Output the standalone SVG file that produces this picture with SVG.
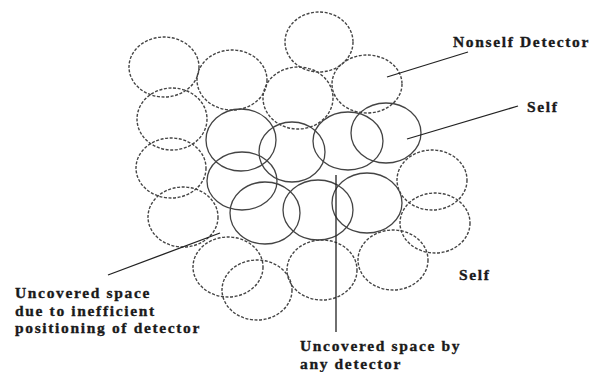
<svg xmlns="http://www.w3.org/2000/svg" width="601" height="372" viewBox="0 0 601 372">
<style>
.d{fill:none;stroke:#444;stroke-width:1.4;stroke-dasharray:3 1.6}
.s{fill:none;stroke:#444;stroke-width:1.3}
.l{stroke:#222;stroke-width:1.3;fill:none}
text{font-family:"Liberation Serif","Times New Roman",serif;font-weight:700;font-size:15.5px;letter-spacing:1.65px;fill:#1a1a1a;stroke:#1a1a1a;stroke-width:0.35}
</style>
<rect width="601" height="372" fill="#fff"/>
<g id="detectors">
<ellipse id="d1" class="d" cx="319" cy="42" rx="34" ry="30"/>
<ellipse id="d2" class="d" cx="164" cy="67" rx="35" ry="30"/>
<ellipse id="d3" class="d" cx="232" cy="80" rx="35" ry="30"/>
<ellipse id="d4" class="d" cx="298" cy="98" rx="35" ry="31"/>
<ellipse id="d5" class="d" cx="367" cy="84" rx="35" ry="29"/>
<ellipse id="d6" class="d" cx="172" cy="119" rx="35" ry="31"/>
<ellipse id="d7" class="d" cx="171" cy="168" rx="35" ry="30"/>
<ellipse id="d8" class="d" cx="183" cy="217" rx="35" ry="30"/>
<ellipse id="d9" class="d" cx="228" cy="267" rx="35" ry="30"/>
<ellipse id="d10" class="d" cx="257" cy="290" rx="35" ry="30"/>
<ellipse id="d11" class="d" cx="322" cy="270" rx="35" ry="30"/>
<ellipse id="d12" class="d" cx="393" cy="260" rx="35" ry="30"/>
<ellipse id="d13" class="d" cx="432" cy="180" rx="35" ry="30"/>
<ellipse id="d14" class="d" cx="435" cy="223" rx="35" ry="30"/>
</g>
<g id="self">
<ellipse id="s1" class="s" cx="241" cy="140" rx="35" ry="31"/>
<ellipse id="s2" class="s" cx="292" cy="152" rx="33" ry="30"/>
<ellipse id="s3" class="s" cx="348" cy="141" rx="35" ry="29"/>
<ellipse id="s4" class="s" cx="386" cy="133" rx="35" ry="30"/>
<ellipse id="s5" class="s" cx="242" cy="181" rx="35" ry="29"/>
<ellipse id="s6" class="s" cx="265" cy="213" rx="35" ry="31"/>
<ellipse id="s7" class="s" cx="318" cy="210" rx="35" ry="30"/>
<ellipse id="s8" class="s" cx="367" cy="203" rx="35" ry="30"/>
</g>
<g id="connectors">
<line class="l" x1="387" y1="77" x2="468" y2="52"/>
<line class="l" x1="407" y1="139" x2="518" y2="106"/>
<line class="l" x1="108" y1="275" x2="220" y2="233"/>
<line class="l" x1="336" y1="175" x2="336" y2="332"/>
</g>
<g id="labels">
<text x="453" y="47">Nonself Detector</text>
<text x="527" y="112">Self</text>
<text x="459" y="280">Self</text>
<text x="15" y="298">Uncovered space</text>
<text x="15" y="315.5">due to inefficient</text>
<text x="15" y="333">positioning of detector</text>
<text x="300" y="351">Uncovered space by</text>
<text x="300" y="369">any detector</text>
</g>
</svg>
